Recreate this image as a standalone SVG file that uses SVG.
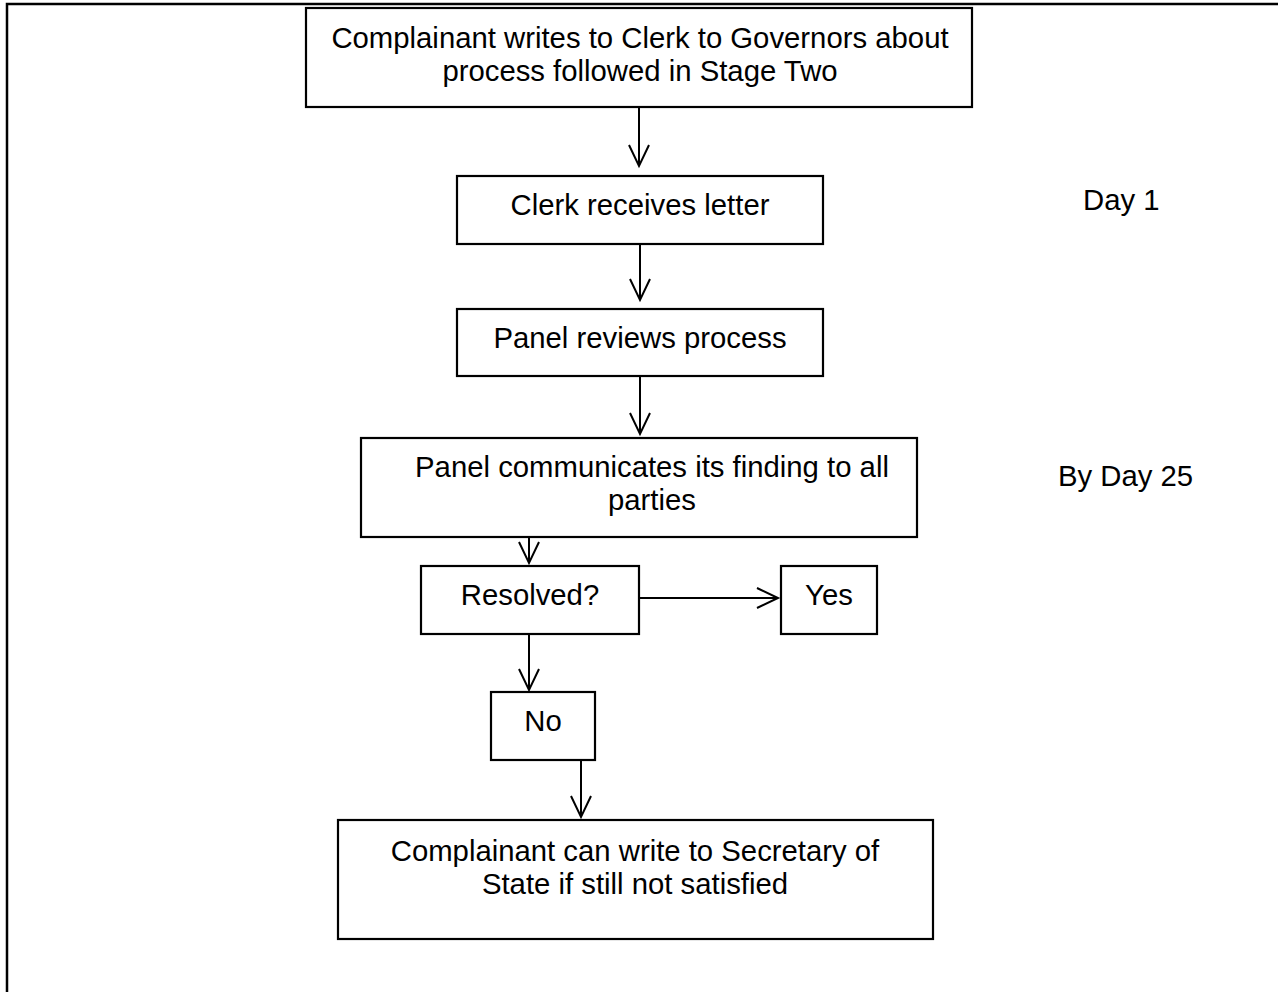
<svg xmlns="http://www.w3.org/2000/svg" width="1278" height="992" viewBox="0 0 1278 992">
<style>
.box{fill:#fff;stroke:#000;stroke-width:2.2}
.t{font-family:"Liberation Sans",Arial,sans-serif;font-size:29.3px;fill:#000;text-anchor:middle}
.s{text-anchor:start}
.c{fill:none;stroke:#000;stroke-width:2}
</style>
<defs>
<marker id="ah" markerUnits="userSpaceOnUse" markerWidth="30" markerHeight="30" refX="0" refY="0" orient="auto" overflow="visible">
<path d="M-21,-10 L0,0 L-21,10" fill="none" stroke="#000" stroke-width="2"/>
</marker>
</defs>
<rect width="1278" height="992" fill="#fff"/>
<path d="M7,992 V4 H1278" fill="none" stroke="#000" stroke-width="2.5"/>
<g id="connectors">
<line class="c" x1="639" y1="107" x2="639" y2="166" marker-end="url(#ah)"/>
<line class="c" x1="640" y1="244" x2="640" y2="300" marker-end="url(#ah)"/>
<line class="c" x1="640" y1="376" x2="640" y2="434" marker-end="url(#ah)"/>
<line class="c" x1="529" y1="527" x2="529" y2="563" marker-end="url(#ah)"/>
<line class="c" x1="639" y1="598" x2="778" y2="598" marker-end="url(#ah)"/>
<line class="c" x1="529" y1="634" x2="529" y2="690" marker-end="url(#ah)"/>
<line class="c" x1="581" y1="760" x2="581" y2="817" marker-end="url(#ah)"/>
</g>
<g id="n1"><rect class="box" x="306" y="8" width="666" height="99"/>
<text class="t" x="640" y="48">Complainant writes to Clerk to Governors about</text>
<text class="t" x="640" y="81">process followed in Stage Two</text></g>
<g id="n2"><rect class="box" x="457" y="176" width="366" height="68"/>
<text class="t" x="640" y="215">Clerk receives letter</text></g>
<g id="n3"><rect class="box" x="457" y="309" width="366" height="67"/>
<text class="t" x="640" y="348">Panel reviews process</text></g>
<g id="n4"><rect class="box" x="361" y="438" width="556" height="99"/>
<text class="t" x="652" y="477">Panel communicates its finding to all</text>
<text class="t" x="652" y="510">parties</text></g>
<g id="n5"><rect class="box" x="421" y="566" width="218" height="68"/>
<text class="t" x="530" y="605">Resolved?</text></g>
<g id="n6"><rect class="box" x="781" y="566" width="96" height="68"/>
<text class="t" x="829" y="605">Yes</text></g>
<g id="n7"><rect class="box" x="491" y="692" width="104" height="68"/>
<text class="t" x="543" y="731">No</text></g>
<g id="n8"><rect class="box" x="338" y="820" width="595" height="119"/>
<text class="t" x="635" y="861">Complainant can write to Secretary of</text>
<text class="t" x="635" y="894">State if still not satisfied</text></g>
<g id="day1"><text class="t s" x="1083" y="210">Day 1</text></g>
<g id="day25"><text class="t s" x="1058" y="486">By Day 25</text></g>
</svg>
